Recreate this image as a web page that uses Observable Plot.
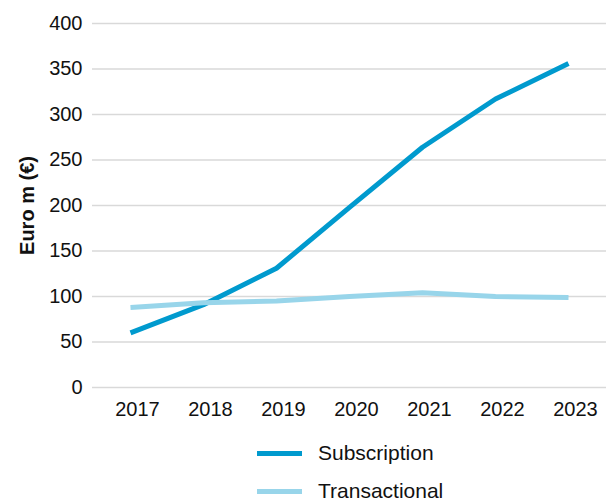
<!DOCTYPE html>
<html><head><meta charset="utf-8">
<script src="https://cdn.jsdelivr.net/npm/d3@7"></script>
<script src="https://cdn.jsdelivr.net/npm/@observablehq/plot@0.6"></script>
<style>
body{margin:0;background:#fff;font-family:"Liberation Sans",Arial,sans-serif;}
#wrap{position:relative;width:606px;height:503px;}
#legend{position:absolute;left:257px;top:434px;}
.row{display:flex;align-items:center;height:38px;}
.sw{width:45px;height:5px;margin-right:16px;}
.lab{font-size:21px;color:#111;}
</style>
</head><body><div id="wrap"><div id="chart"></div><div id="legend"></div></div>
<script>
const years = [2017, 2018, 2019, 2020, 2021, 2022, 2023];
const subscription = [60, 91, 131, 198, 264, 317, 356];
const transactional = [88, 93, 95, 100, 104, 100, 99];
const yTicks = [0, 50, 100, 150, 200, 250, 300, 350, 400];
const seriesNames = ["Subscription", "Transactional"];
const seriesColors = ["#009ace", "#98d5ea"];
const yLabel = "Euro m (€)";

const data = years.flatMap((yr, i) => [
  {year: yr, value: subscription[i], series: "Subscription"},
  {year: yr, value: transactional[i], series: "Transactional"}
]);

const chart = Plot.plot({
  width: 606, height: 430,
  marginLeft: 92, marginRight: 0, marginTop: 23, marginBottom: 43,
  style: {fontFamily: "Liberation Sans, Arial, sans-serif", color: "#111", background: "#fff"},
  x: {type: "point", domain: years, padding: 0.5, axis: null},
  y: {domain: [0, 400], axis: null},
  color: {domain: seriesNames, range: seriesColors},
  marks: [
    Plot.ruleY(yTicks, {stroke: "#d9d9d9", strokeWidth: 1.5}),
    Plot.axisY({ticks: yTicks, tickSize: 0, tickPadding: 10, fontSize: 20, label: null}),
    Plot.axisX({tickSize: 0, tickPadding: 14, fontSize: 20, dx: 7, label: null, tickFormat: d => String(d)}),
    Plot.line(data, {x: "year", y: "value", stroke: "series", strokeWidth: 5, strokeLinecap: "butt", strokeLinejoin: "round"}),
    Plot.text([yLabel], {frameAnchor: "left", textAnchor: "middle", dx: -65, rotate: -90, fontSize: 20, fontWeight: "bold", fill: "#111", text: d => d})
  ]
});
document.getElementById("chart").appendChild(chart);

const legend = document.getElementById("legend");
seriesNames.forEach((name, i) => {
  const row = document.createElement("div");
  row.className = "row";
  row.innerHTML = `<div class="sw" style="background:${seriesColors[i]}"></div><span class="lab">${name}</span>`;
  legend.appendChild(row);
});
</script>
</body></html>
